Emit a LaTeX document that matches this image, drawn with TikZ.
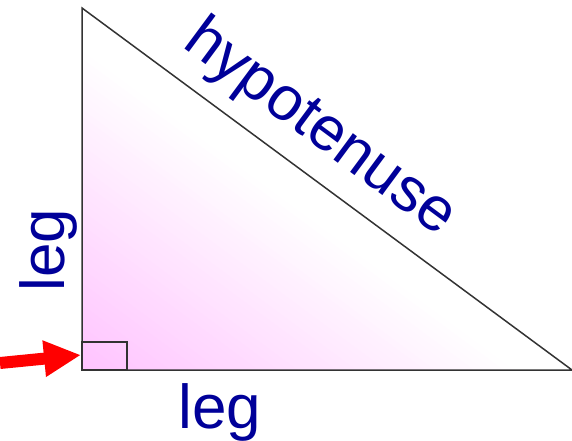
\documentclass[tikz,border=0pt]{standalone}
\usepackage{fontspec}
\setmainfont{Liberation Sans}
\usetikzlibrary{arrows.meta, calc}
\definecolor{tripink}{HTML}{FFC2FF}
\definecolor{triedge}{HTML}{333333}
\definecolor{labelblue}{HTML}{000099}
\definecolor{arrowred}{HTML}{FF0000}

\begin{document}
\begin{tikzpicture}[
      x=1pt,
      y=-1pt,
      edge/.style={
        line width=1.5pt,
        draw=triedge
      },
      sidelabel/.style={
        text=labelblue,
        font=\fontsize{62}{62}\selectfont,
        inner sep=0pt
      },
      pointer/.style={
        -{Triangle[length=37pt,width=34pt]},
        line width=12pt,
        draw=arrowred
      }
  ]

    \useasboundingbox (0,0) rectangle (572,441);

    \coordinate (top) at (82,8);
    \coordinate (corner) at (82,370);
    \coordinate (right) at (572,370);

    % Toning fra hjoernet mod hypotenusen
    \foreach \i in {50,...,1} {
      \pgfmathsetmacro{\s}{\i/50}
      \pgfmathtruncatemacro{\p}{max(0,100*(1-\s/0.9))}
      \fill[tripink!\p!white]
        (corner) -- ($(corner)!\s!(top)$) -- ($(corner)!\s!(right)$) -- cycle;
    }

    \draw[edge] (top) -- (corner) -- (right) -- cycle;

    % Ret vinkel
    \draw[edge, line width=2pt] (corner) rectangle (127,342);

    \node[sidelabel, anchor=base, rotate=-36.5] (hyp) at (310,142) {hypotenuse};
    \node[sidelabel, anchor=base, rotate=90] (legleft) at (64,250) {leg};
    \node[sidelabel, anchor=base] (legbottom) at (220,428) {leg};

    % Pil mod vinklen
    \coordinate (tail) at (0,363);
    \coordinate (tip) at (81,355);
    \draw[pointer] (tail) -- (tip);

  \end{tikzpicture}
\end{document}
